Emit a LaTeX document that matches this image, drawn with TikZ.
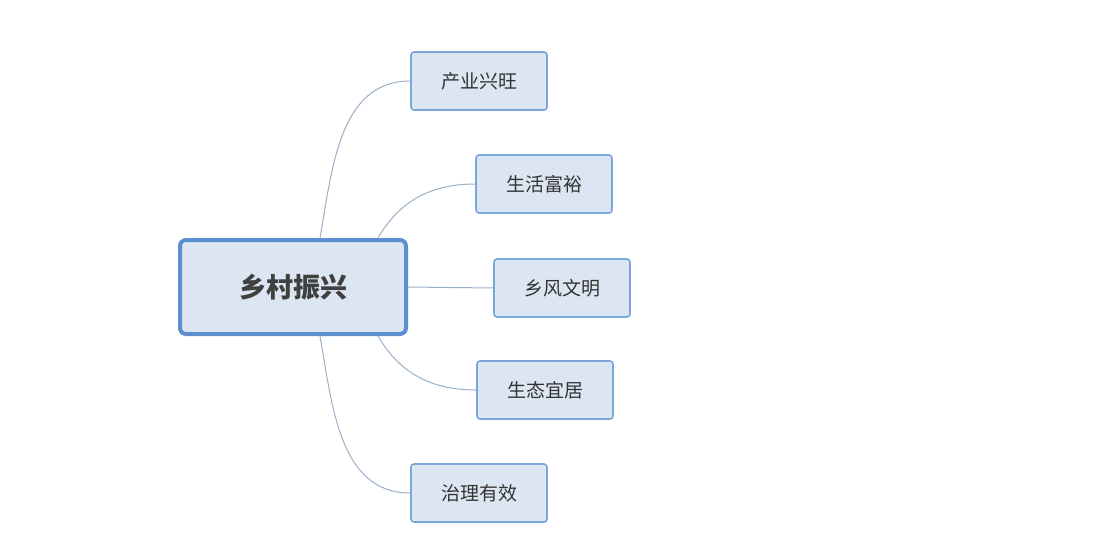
\documentclass[tikz,border=0pt]{standalone}
\usepackage{fontspec}
\setmainfont{Noto Sans CJK SC}
\definecolor{boxfill}{HTML}{DCE6F2}
\definecolor{boxline}{HTML}{5B8FD0}
\definecolor{linkline}{HTML}{9AAFC8}
\tikzset{
  rootbox/.style={draw=boxline,line width=4pt,fill=boxfill,rounded corners=6pt,
    minimum width=226pt,minimum height=94pt,font=\fontsize{27}{30}\selectfont\bfseries,text=black!75},
  leafbox/.style={draw=boxline!80,line width=1.6pt,fill=boxfill,rounded corners=3pt,
    minimum width=136pt,minimum height=58pt,font=\fontsize{19}{22}\selectfont,text=black!80},
  link/.style={draw=linkline,line width=1pt}
}
\begin{document}
\begin{tikzpicture}[x=1pt,y=-1pt]
	\useasboundingbox (0,0) rectangle (1120,560);
	\node[rootbox] (root) at (293,287) {乡村振兴};
	\node[leafbox] (a) at (479,81) {产业兴旺};
	\node[leafbox] (b) at (544,184) {生活富裕};
	\node[leafbox] (c) at (562,288) {乡风文明};
	\node[leafbox] (d) at (545,390) {生态宜居};
	\node[leafbox] (e) at (479,493) {治理有效};
	% connectors
	\draw[link] ([xshift=27pt]root.north) to[out=80,in=180] (a.west);
	\draw[link] ([xshift=85pt]root.north) to[out=60,in=180] (b.west);
	\draw[link] (root.east) -- (c.west);
	\draw[link] ([xshift=85pt]root.south) to[out=-60,in=180] (d.west);
	\draw[link] ([xshift=27pt]root.south) to[out=-80,in=180] (e.west);
\end{tikzpicture}
\end{document}
